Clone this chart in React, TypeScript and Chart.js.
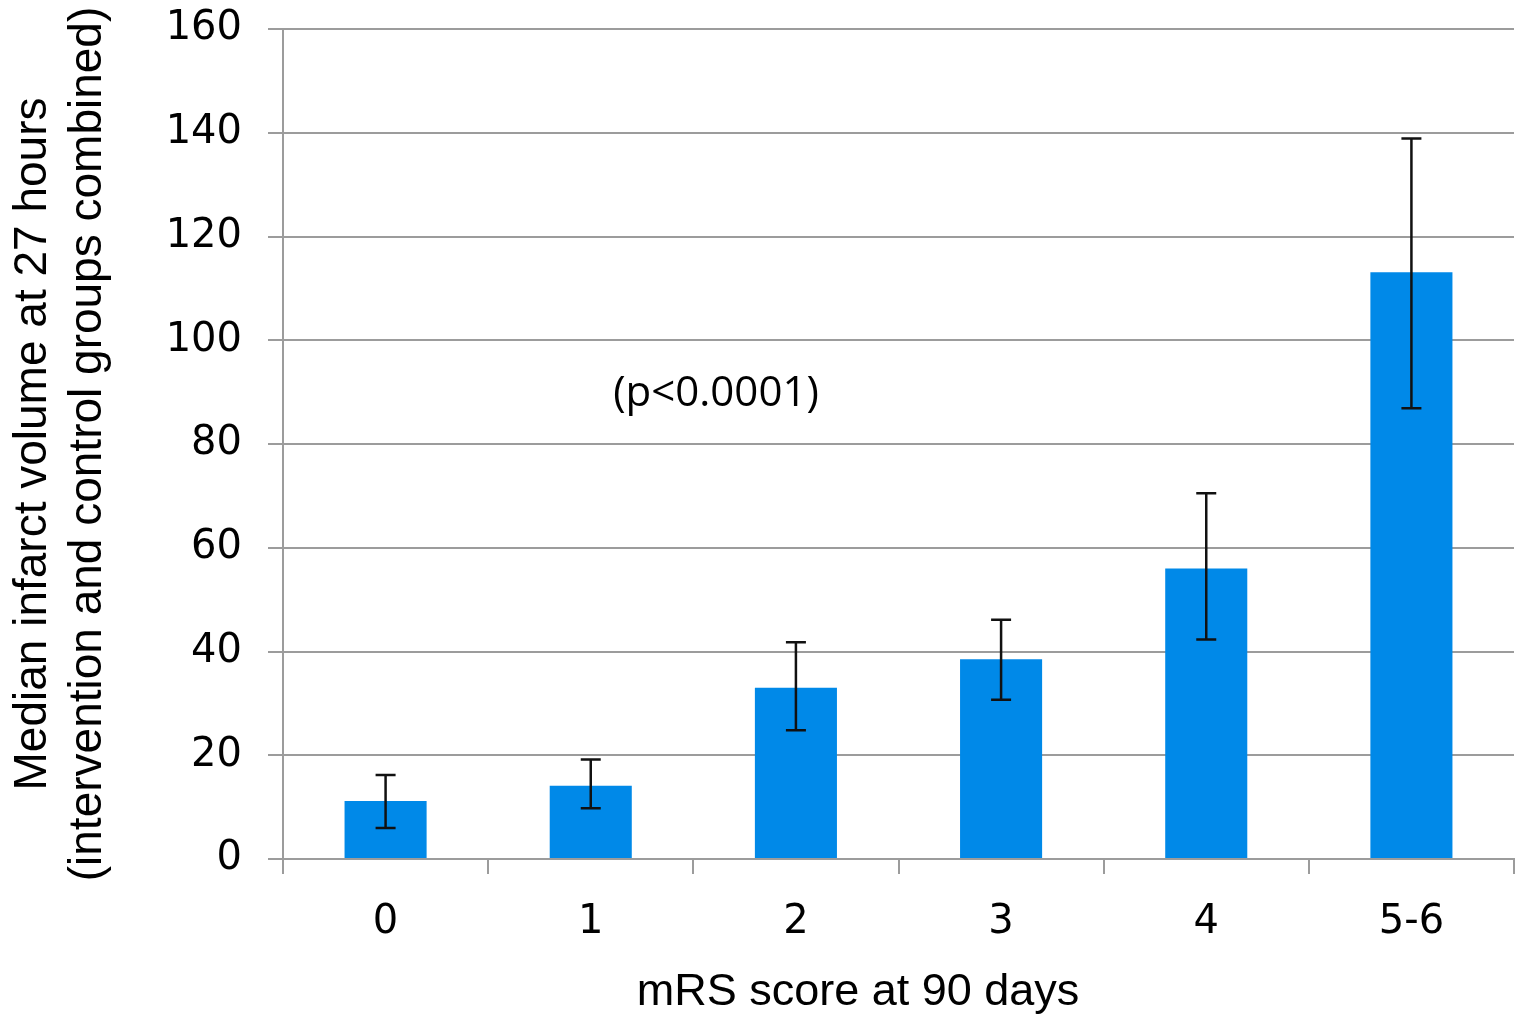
import React, { useEffect, useRef } from "react";
import { Chart, registerables } from "chart.js";

Chart.register(...registerables);

const categories = ["0", "1", "2", "3", "4", "5-6"];
const medianVolume = [11.2, 14.1, 33.0, 38.5, 56.0, 113.1];
const errorHigh = [16.2, 19.2, 41.8, 46.1, 70.5, 138.9];
const errorLow = [6.0, 9.8, 24.8, 30.7, 42.3, 86.9];
const yTitleLines = [
  "Median infarct volume at 27 hours",
  "(intervention and control groups combined)",
];
const xTitle = "mRS score at 90 days";
const annotationText = "(p<0.0001)";

const W = 1523;
const H = 1014;
const GRID = "#9c9c9c";

const overlayPlugin = {
  id: "overlay",
  afterDatasetsDraw(chart: any) {
    const ctx = chart.ctx;
    const y = chart.scales.y;
    const meta = chart.getDatasetMeta(0);
    ctx.save();
    ctx.strokeStyle = "#111";
    ctx.lineWidth = 2.5;
    meta.data.forEach((bar: any, i: number) => {
      const x = bar.x;
      const yh = y.getPixelForValue(errorHigh[i]);
      const yl = y.getPixelForValue(errorLow[i]);
      ctx.beginPath();
      ctx.moveTo(x, yh);
      ctx.lineTo(x, yl);
      ctx.moveTo(x - 10, yh);
      ctx.lineTo(x + 10, yh);
      ctx.moveTo(x - 10, yl);
      ctx.lineTo(x + 10, yl);
      ctx.stroke();
    });
    ctx.restore();
  },
  afterDraw(chart: any) {
    const ctx = chart.ctx;
    ctx.save();
    ctx.fillStyle = "#000";
    ctx.textAlign = "center";
    ctx.textBaseline = "alphabetic";
    ctx.font = '45px "Liberation Sans", Arial, sans-serif';
    ctx.fillText(xTitle, 858, 1005);
    ctx.textBaseline = "middle";
    ctx.font = '42px "Open Sans", "Noto Sans", sans-serif';
    ctx.fillText(annotationText, 716, 394);
    ctx.restore();
  },
};

export default function App() {
  const ref = useRef<HTMLCanvasElement | null>(null);

  useEffect(() => {
    document.body.style.margin = "0";
    const canvas = ref.current;
    if (!canvas) return;
    const chart = new Chart(canvas, {
      type: "bar",
      data: {
        labels: categories,
        datasets: [
          {
            data: medianVolume,
            backgroundColor: "rgb(0,137,232)",
            borderWidth: 0,
            categoryPercentage: 1,
            barPercentage: 0.4,
          },
        ],
      },
      options: {
        animation: false,
        responsive: false,
        devicePixelRatio: 1,
        layout: { padding: { left: 0, top: 29, right: 9, bottom: 0 } },
        plugins: {
          legend: { display: false },
          tooltip: { enabled: false },
        },
        scales: {
          x: {
            offset: true,
            grid: {
              display: true,
              drawOnChartArea: false,
              offset: true,
              tickLength: 15,
              color: GRID,
              lineWidth: 2,
            },
            border: { display: true, color: GRID, width: 2 },
            ticks: {
              color: "#000",
              padding: 25,
              font: { family: '"DejaVu Sans", Verdana, sans-serif', size: 40 },
            },
            afterFit(scale: any) {
              scale.height = H - 859;
              scale.paddingLeft = 0;
              scale.paddingRight = 0;
            },
          },
          y: {
            min: 0,
            max: 160,
            ticks: {
              stepSize: 20,
              color: "#000",
              padding: 26,
              font: { family: '"DejaVu Sans", Verdana, sans-serif', size: 40 },
            },
            grid: {
              color: GRID,
              lineWidth: 2,
              tickLength: 15,
            },
            border: { display: true, color: GRID, width: 2 },
            title: {
              display: true,
              text: yTitleLines,
              color: "#000",
              padding: { top: 6, bottom: 0 },
              font: { family: '"Liberation Sans", Arial, sans-serif', size: 46, lineHeight: 1.2 },
            },
            afterFit(scale: any) {
              scale.width = 283;
              scale.paddingTop = 0;
              scale.paddingBottom = 0;
            },
          },
        },
      },
      plugins: [overlayPlugin],
    });
    return () => chart.destroy();
  }, []);

  return (
    <div style={{ position: "absolute", left: 0, top: 0, width: W, height: H, background: "#fff" }}>
      <canvas ref={ref} width={W} height={H} style={{ display: "block", width: W, height: H }} />
    </div>
  );
}
